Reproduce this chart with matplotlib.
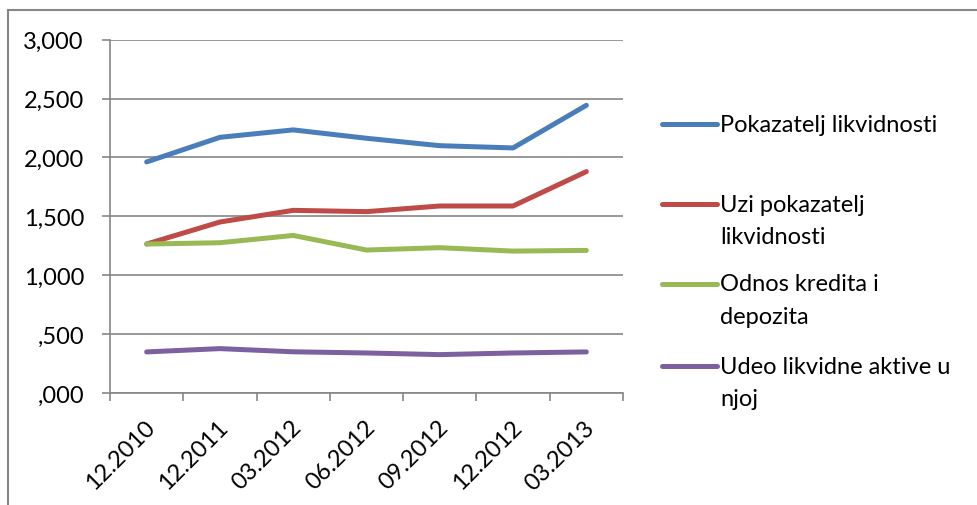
import matplotlib.pyplot as plt
import matplotlib.transforms as mtransforms
from matplotlib.lines import Line2D
from matplotlib.ticker import FuncFormatter, MultipleLocator

# podaci ocitani sa grafika
periodi = ['12.2010', '12.2011', '03.2012', '06.2012', '09.2012', '12.2012', '03.2013']
pokazatelj = [1.962, 2.171, 2.234, 2.163, 2.100, 2.081, 2.443]
uzi_pokazatelj = [1.265, 1.452, 1.551, 1.540, 1.588, 1.588, 1.880]
kredit_depozit = [1.265, 1.276, 1.338, 1.214, 1.234, 1.205, 1.211]
udeo_aktive = [0.349, 0.377, 0.350, 0.340, 0.326, 0.340, 0.349]

nazivi = [['Pokazatelj likvidnosti'], ['Uzi pokazatelj', 'likvidnosti'],
          ['Odnos kredita i', 'depozita'], ['Udeo likvidne aktive u', 'njoj']]
boje = ['#4A7EBB', '#BE4B48', '#98B954', '#7D60A0']
serije = [pokazatelj, uzi_pokazatelj, kredit_depozit, udeo_aktive]

plt.rcParams['font.family'] = ['Lato', 'DejaVu Sans']
siva = '#868686'
fs = 17

fig = plt.figure(figsize=(9.78, 5.06), dpi=100)
ax = fig.add_axes([0.1125, 0.2213, 0.5245, 0.6983])

x = list(range(len(periodi)))
for vals, boja in zip(serije, boje):
    ax.plot(x, vals, color=boja, lw=3.6, solid_capstyle='round', solid_joinstyle='round')

ax.set_xlim(-0.5, len(periodi) - 0.5)
ax.set_ylim(0, 3.0)
ax.yaxis.set_major_locator(MultipleLocator(0.5))


def fmt(v, pos):
    s = f'{v:.3f}'.replace('.', ',')
    return s[1:] if s.startswith('0') else s


ax.yaxis.set_major_formatter(FuncFormatter(fmt))
ax.grid(axis='y', color=siva, lw=1.2)
ax.set_axisbelow(True)

ax.set_xticks(x)
ax.set_xticklabels(periodi, rotation=45, ha='right', va='center', rotation_mode='anchor')
ax.set_xticks([i - 0.5 for i in range(len(periodi) + 1)], minor=True)
ax.tick_params(axis='x', which='major', length=0, pad=22, labelsize=fs)
ax.tick_params(axis='x', which='minor', length=5.8, width=1.2, color=siva, direction='out')
ax.tick_params(axis='y', length=5.8, width=1.2, color=siva, labelsize=fs, pad=13)
pomak = mtransforms.ScaledTranslation(5 / 100, 0, fig.dpi_scale_trans)
for lbl in ax.get_xticklabels():
    lbl.set_transform(lbl.get_transform() + pomak)

for s in ['top', 'right']:
    ax.spines[s].set_visible(False)
for s in ['left', 'bottom']:
    ax.spines[s].set_color(siva)
    ax.spines[s].set_linewidth(1.2)

# legenda desno
W, H = 978, 506
leg_y = [125, 205, 285, 367]
razmak = 33
for redovi, boja, yy in zip(nazivi, boje, leg_y):
    fig.add_artist(Line2D([662 / W, 717 / W], [1 - yy / H, 1 - yy / H], color=boja,
                          lw=3.6, solid_capstyle='round'))
    for k, red in enumerate(redovi):
        fig.text(720 / W, 1 - (yy + k * razmak) / H, red, fontsize=fs,
                 va='center', ha='left')

# okvir
fig.add_artist(Line2D([8 / W, 1], [1 - 11 / H, 1 - 11 / H], color=siva, lw=1.5))
fig.add_artist(Line2D([8 / W, 8 / W], [0, 1 - 11 / H], color=siva, lw=1.5))

fig.savefig('out.png', dpi=100)
